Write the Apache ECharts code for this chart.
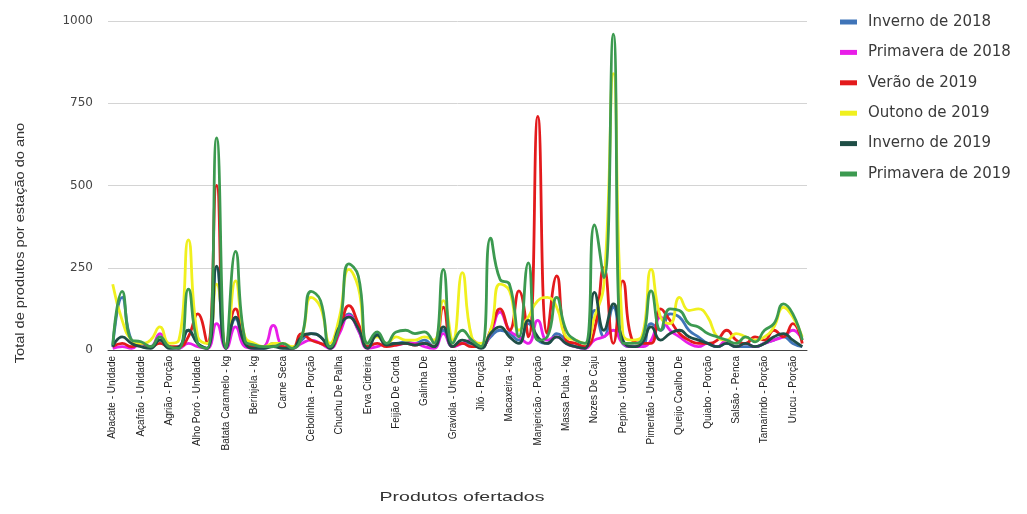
<!DOCTYPE html>
<html>
<head>
<meta charset="utf-8">
<script src="https://cdn.jsdelivr.net/npm/echarts@6/dist/echarts.min.js"></script>
<style>
html,body{margin:0;padding:0;background:#fff;}
#c{width:1027px;height:514px;}
</style>
</head>
<body>
<div id="c"></div>
<script>
const categories = [
  "Abacate - Unidade","Abóbora - kg","Abobrinha - kg",
  "Açafrão - Unidade","Acelga - Unidade","Agrião - Maço",
  "Agrião - Porção","Aipim - kg","Alface - Unidade",
  "Alho Poró - Unidade","Banana - Dúzia","Batata Doce - kg",
  "Batata Caramelo - kg","Beterraba - kg","Bolo - Unidade",
  "Berinjela - kg","Brócolis - Unidade","Cajá - Polpa",
  "Carne Seca","Cebola - kg","Cenoura - kg",
  "Cebolinha - Porção","Cheiro Verde - Porção","Chicória - Porção",
  "Chuchu De Palha","Coentro - Porção","Couve - Maço",
  "Erva Cidreira","Espinafre - Maço","Farinha - kg",
  "Feijão De Corda","Feijão Verde - kg","Frango - kg",
  "Galinha De","Gengibre - kg","Goma - kg",
  "Graviola - Unidade","Hortelã - Porção","Inhame - kg",
  "Jiló - Porção","Laranja - Dúzia","Limão - Dúzia",
  "Macaxeira - kg","Mamão - Unidade","Manga - Unidade",
  "Manjericão - Porção","Maracujá - kg","Massa De Milho - kg",
  "Massa Puba - kg","Maxixe - Porção","Melancia - Unidade",
  "Nozes De Caju","Ovos - Dúzia","Pepino - kg",
  "Pepino - Unidade","Pimenta - Porção","Pimentão - kg",
  "Pimentão - Unidade","Polpa De Fruta","Queijo - kg",
  "Queijo Coalho De","Quiabo - kg","Rabanete - Maço",
  "Quiabo - Porção","Repolho - Unidade","Rúcula - Maço",
  "Salsão - Penca","Tapioca - kg","Tomate - kg",
  "Tamarindo - Porção","Tomate Cereja - kg","Umbu - kg",
  "Urucu - Porção","Vagem - kg"
];

const seriesNames = ["Inverno de 2018","Primavera de 2018","Verão de 2019","Outono de 2019","Inverno de 2019","Primavera de 2019"];

const inverno2018 = [10,160,30,20,10,40,10,5,60,20,5,250,5,95,20,10,5,20,10,5,30,50,40,10,60,110,60,10,50,20,20,25,20,30,10,60,10,20,20,10,40,60,50,30,80,30,20,50,30,10,5,120,40,130,20,10,10,80,60,110,100,60,40,20,10,20,10,10,10,20,30,40,20,10];
const primavera2018 = [5,10,5,20,10,50,10,5,20,10,5,80,5,70,10,5,10,75,10,5,20,30,20,5,50,105,60,5,10,20,15,20,20,10,5,50,10,20,30,10,50,115,60,40,20,90,30,40,20,10,5,30,40,60,20,10,10,30,100,60,40,20,10,20,10,30,10,20,10,20,30,40,60,30];
const verao2019 = [10,20,10,20,10,20,10,10,40,110,20,500,10,125,30,10,10,10,10,5,50,30,20,10,60,135,80,10,20,10,15,20,15,20,10,130,10,20,10,10,60,125,60,180,40,710,50,225,30,20,10,60,250,20,210,30,20,20,125,90,50,30,20,20,30,60,30,20,40,30,60,40,80,20];
const outono2019 = [200,90,30,20,30,70,20,30,335,40,20,200,10,210,40,20,10,20,20,10,40,160,130,20,100,245,190,20,40,20,40,30,30,40,30,150,30,235,40,20,60,200,180,60,100,150,160,130,40,30,20,100,200,840,50,30,40,245,100,80,160,120,125,100,40,30,50,40,30,40,70,130,100,40];
const inverno2019 = [10,40,20,10,5,30,5,10,60,20,5,255,5,100,20,5,5,10,5,5,40,50,40,5,70,100,65,5,45,15,20,20,15,20,10,70,10,30,20,5,50,70,40,20,90,40,20,40,20,10,5,175,60,140,30,10,20,70,30,50,60,40,30,20,10,20,10,20,10,20,40,50,30,10];
const primavera2019 = [15,178,30,25,10,40,10,5,185,20,5,645,5,300,30,15,10,10,20,5,40,178,150,10,70,262,225,20,55,20,55,60,50,55,20,245,20,60,30,10,340,215,200,40,265,30,40,160,60,30,20,380,220,960,20,20,30,180,60,125,120,80,70,50,40,30,20,40,25,60,80,140,110,30];

const yTicks = [0,250,500,750,1000];
const colors = ['#3f74b8','#e81ee8','#e31a1c','#f0f01e','#1f4e46','#3c9a50'];
const allData = [inverno2018, primavera2018, verao2019, outono2019, inverno2019, primavera2019];

const font = "'Liberation Sans', Arial, sans-serif";
const wide = "'DejaVu Sans', sans-serif";
const chart = echarts.init(document.getElementById('c'), null, {renderer:'canvas'});
chart.setOption({
  animation:false,
  color: colors,
  textStyle:{fontFamily: font},
  grid:{left:108, top:21, width:699, height:329},
  legend:{
    orient:'vertical', left:835, top:9,
    icon:'rect', itemWidth:17, itemHeight:5, itemGap:14.4,
    textStyle:{fontSize:15, color:'#3a3a3a', lineHeight:16, fontFamily:wide, padding:[0,0,0,6]},
    data: seriesNames
  },
  xAxis:{
    type:'category', data:categories, boundaryGap:true,
    axisLine:{show:true, lineStyle:{color:'#444', width:1}},
    axisTick:{show:false},
    axisLabel:{interval:2, rotate:90, fontSize:10, color:'#222', margin:6, fontFamily:font},
    splitLine:{show:false}
  },
  yAxis:{
    type:'value', min:yTicks[0], max:yTicks[yTicks.length-1], interval:250,
    axisLine:{show:false}, axisTick:{show:false},
    axisLabel:{fontSize:12, color:'#444', margin:15, fontFamily:wide, formatter:(v)=>String(v)},
    splitLine:{lineStyle:{color:'#d4d4d4', width:1}}
  },
  graphic:[
    {type:'text', x:20, y:243, rotation:Math.PI/2, scaleX:1.12,
     style:{text:'Total de produtos por estação do ano', fontSize:13, fill:'#333', align:'center', verticalAlign:'middle', fontFamily:font}},
    {type:'text', x:462, y:497, scaleX:1.5,
     style:{text:'Produtos ofertados', fontSize:13, fill:'#333', align:'center', verticalAlign:'middle', fontFamily:font}}
  ],
  series: seriesNames.map((n,i)=>({
    name:n, type:'line', data:allData[i], smooth:0.5,
    showSymbol:false, symbol:'none',
    lineStyle:{width:2.8, color:colors[i]},
    itemStyle:{color:colors[i]}
  }))
});
</script>
</body>
</html>
